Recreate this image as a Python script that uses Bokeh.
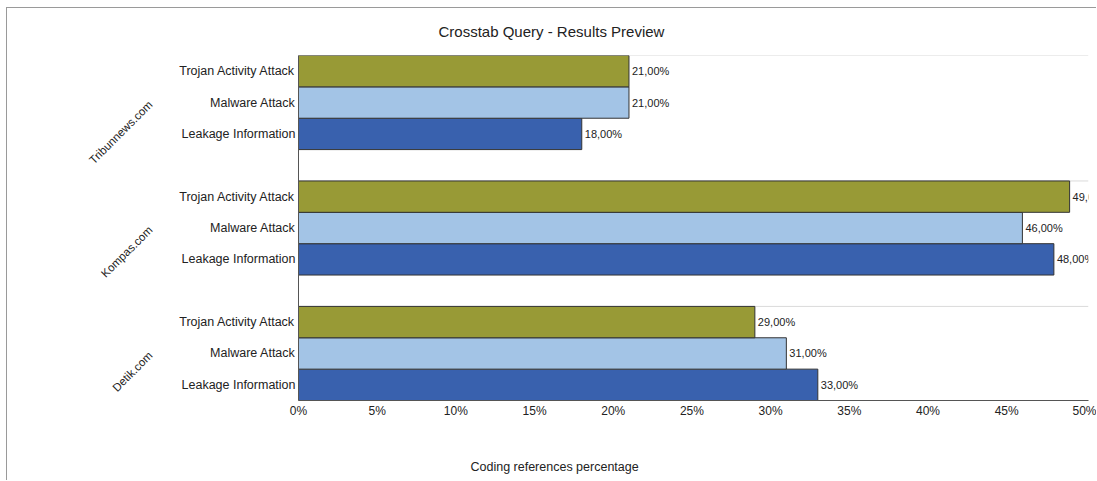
import math
from bokeh.plotting import figure
from bokeh.models import Range1d, ColumnDataSource, FixedTicker, Title, LinearAxis
from bokeh.core.properties import value
from bokeh.embed import file_html
from bokeh.resources import INLINE

# ---- data (bottom-to-top order) ----
sites = ["Detik.com", "Kompas.com", "Tribunnews.com"]
attacks = ["Leakage Information", "Malware Attack", "Trojan Activity Attack"]
detik_values = [33, 31, 29]
kompas_values = [48, 46, 49]
tribunnews_values = [18, 21, 21]
attack_colors = ["#3961AE", "#A3C4E6", "#989A36"]
x_ticks = [0, 5, 10, 15, 20, 25, 30, 35, 40, 45, 50]
x_tick_labels = ["0%", "5%", "10%", "15%", "20%", "25%", "30%", "35%", "40%", "45%", "50%"]
title_text = "Crosstab Query - Results Preview"
x_title_text = "Coding references percentage"

FONT = "Liberation Sans"
x_end = 50.2

site_values = {"Detik.com": detik_values, "Kompas.com": kompas_values,
               "Tribunnews.com": tribunnews_values}

n_sub = len(attacks)
slot = n_sub + 1                          # one empty slot between groups
n_units = len(sites) * slot - 1

ys, vals, cols, labels, tick_names = [], [], [], [], []
for i, s in enumerate(sites):
    for j, (a, v, c) in enumerate(zip(attacks, site_values[s], attack_colors)):
        ys.append(i * slot + j + 0.5)
        vals.append(v)
        cols.append(c)
        labels.append(f"{v:.2f}".replace(".", ",") + "%")
        tick_names.append(a)

src = ColumnDataSource(dict(y=ys, v=vals, c=cols, lab=labels))

p = figure(width=1090, height=473,
           x_range=Range1d(0, x_end), y_range=Range1d(0, n_units),
           output_backend="svg", toolbar_location=None,
           min_border_left=291, min_border_right=9, min_border_top=46, min_border_bottom=80)
p.styles = {"border-top": "1px solid #9a9a9a", "border-left": "1px solid #9a9a9a",
            "margin-left": "6px", "margin-top": "7px"}
p.outline_line_color = None
p.background_fill_color = "white"
p.border_fill_color = "white"
p.grid.visible = False

# group separator lines at the top of each group
tops = [(i + 1) * slot - 1 for i in range(len(sites))]
p.segment(x0=[0] * len(tops), x1=[x_end] * len(tops), y0=tops, y1=tops,
          line_color="#dadada", line_width=1)

p.hbar(y="y", right="v", left=0, height=1.0, fill_color="c", line_color="#333333",
       line_width=1, source=src)

p.text(x="v", y="y", text="lab", source=src, x_offset=3, text_baseline="middle",
       text_align="left", text_font=value(FONT), text_font_size="11px", text_color="#222222")

# x axis
xa = p.xaxis[0]
xa.ticker = FixedTicker(ticks=x_ticks)
xa.major_label_overrides = {t: l for t, l in zip(x_ticks, x_tick_labels)}
xa.major_tick_line_color = None
xa.minor_tick_line_color = None
xa.axis_line_color = "#555555"
xa.major_label_text_font = FONT
xa.major_label_text_font_size = "12px"
xa.major_label_text_color = "#222222"
xa.major_label_standoff = -3
xa.axis_label = " "                      # blank spacer above the axis title
xa.axis_label_text_font_size = "12px"
xa.axis_label_standoff = 12

# y axis (attack labels)
ya = p.yaxis[0]
ya.ticker = FixedTicker(ticks=ys)
ya.major_label_overrides = {y: n for y, n in zip(ys, tick_names)}
ya.major_tick_line_color = None
ya.minor_tick_line_color = None
ya.axis_line_color = "#555555"
ya.major_label_text_font = FONT
ya.major_label_text_font_size = "12.5px"
ya.major_label_text_color = "#222222"
ya.major_label_standoff = -3

# site labels, rotated, on their own axis
site_centers = [i * slot + n_sub / 2 for i in range(len(sites))]
ga = LinearAxis(ticker=FixedTicker(ticks=site_centers),
                major_label_overrides={c: s for c, s in zip(site_centers, sites)},
                major_label_orientation=math.pi / 4,
                major_tick_line_color=None, minor_tick_line_color=None,
                axis_line_color=None, major_label_standoff=20,
                major_label_text_font=FONT, major_label_text_font_size="11.5px",
                major_label_text_color="#222222")
p.add_layout(ga, "left")

p.title.text = title_text
p.title.align = "left"
p.title.offset = 140
p.title.vertical_align = "top"
p.title.text_font = FONT
p.title.text_font_size = "15px"
p.title.text_font_style = "normal"
p.title.text_color = "#222222"
p.title.standoff = 28

xt = Title(text=x_title_text, align="left", offset=172, text_font=FONT,
           text_font_size="12.5px", text_font_style="normal", text_color="#222222",
           vertical_align="bottom", standoff=16)
p.add_layout(xt, "below")

open("out.html", "w").write(file_html(p, INLINE))
